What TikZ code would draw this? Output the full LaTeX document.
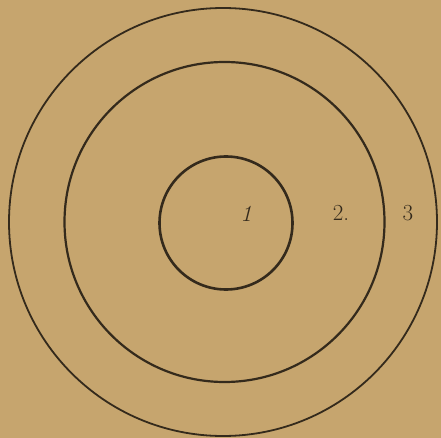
\documentclass[tikz,border=0pt]{standalone}
\usepackage{tikz}
\definecolor{paper}{RGB}{198,165,110}
\definecolor{ink}{RGB}{52,42,28}
\tikzset{ring/.style = {circle, draw=ink, inner sep=0pt},
  num/.style = {text=ink, font=\fontsize{23}{27}\selectfont}}

\begin{document}
\begin{tikzpicture}[x=1pt, y=-1pt]
      \fill[paper] (0,0) rectangle (441,438);
      \useasboundingbox (0,0) rectangle (441,438);
      \node[ring, line width=1.8pt, minimum size=428pt] (outer) at (223,222) {};
      \node[ring, line width=2.2pt, minimum size=320pt] (middle) at (224.5,222) {};
      \node[ring, line width=2.6pt, minimum size=133pt] (inner) at (226,223) {};
      \node[num] (n1) at (246,214) {\itshape 1};
      \node[num] (n2) at (341,213) {2.};
      \node[num] (n3) at (408,213) {3};
    \end{tikzpicture}
\end{document}
